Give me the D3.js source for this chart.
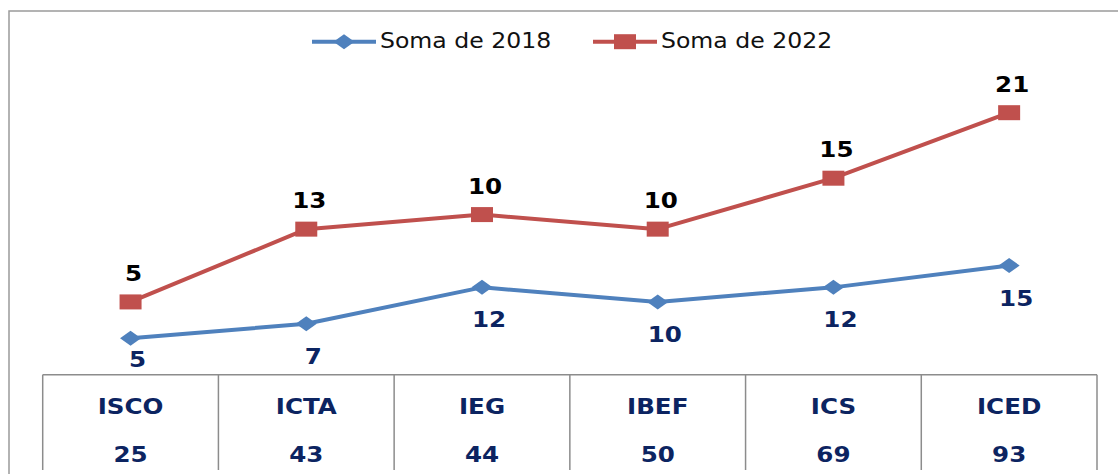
<!DOCTYPE html>
<html>
<head>
<meta charset="utf-8">
<script src="https://cdn.jsdelivr.net/npm/d3@7"></script>
<style>
  html, body { margin: 0; padding: 0; background: #fff; }
  svg { display: block; }
  text { font-family: "DejaVu Sans", Verdana, sans-serif; }
</style>
</head>
<body>
<svg id="chart" width="1118" height="474"></svg>
<script>
// data
var categories = ["ISCO", "ICTA", "IEG", "IBEF", "ICS", "ICED"];
var soma2018 = [5, 7, 12, 10, 12, 15];
var soma2022 = [5, 13, 10, 10, 15, 21];
var totals = [25, 43, 44, 50, 69, 93];
var seriesNames = ["Soma de 2018", "Soma de 2022"];

var blue = "#4F81BD", red = "#C0504D", navy = "#0C2461";
var stretch = 1.17; // reference text is drawn wide

var svg = d3.select("#chart");

// outer chart frame (right and bottom edges fall outside the picture)
svg.append("rect")
    .attr("x", 9).attr("y", 11)
    .attr("width", 1130).attr("height", 480)
    .attr("fill", "none")
    .attr("stroke", "#9a9a9a")
    .attr("stroke-width", 1.5);

var rows = categories.map(function (c, i) {
    return { cat: c, a: soma2018[i], b: soma2022[i], total: totals[i] };
});

// lines are stacked: 2022 sits on top of 2018
var stacked = d3.stack().keys(["a", "b"])(rows);

var x = d3.scaleBand().domain(categories).range([42.7, 1097]).padding(0);
var y = d3.scaleLinear().domain([0, 50]).range([374.7, 10.8]);
var cx = function (c) { return x(c) + x.bandwidth() / 2; };

var line = d3.line()
    .x(function (d) { return cx(d.data.cat); })
    .y(function (d) { return y(d[1]); });

var colors = [blue, red];

stacked.forEach(function (s, k) {
    svg.append("path")
        .datum(s)
        .attr("d", line)
        .attr("fill", "none")
        .attr("stroke", colors[k])
        .attr("stroke-width", 4)
        .attr("stroke-linejoin", "round");
});

// markers
svg.selectAll(".m2018")
    .data(stacked[0])
    .enter().append("path")
    .attr("class", "m2018")
    .attr("transform", function (d) { return "translate(" + cx(d.data.cat) + "," + y(d[1]) + ")"; })
    .attr("d", "M0,-7.5L10.5,0L0,7.5L-10.5,0Z")
    .attr("fill", blue);

svg.selectAll(".m2022")
    .data(stacked[1])
    .enter().append("rect")
    .attr("class", "m2022")
    .attr("x", function (d) { return cx(d.data.cat) - 11; })
    .attr("y", function (d) { return y(d[1]) - 7.5; })
    .attr("width", 22)
    .attr("height", 15)
    .attr("fill", red);

function wideText(sel, fx, fy) {
    return sel.attr("transform", function (d, i) {
        return "translate(" + fx(d, i) + "," + fy(d, i) + ") scale(" + stretch + ",1)";
    });
}

// data labels (below for 2018, kept above the table; above for 2022)
wideText(svg.selectAll(".l2018").data(stacked[0]).enter().append("text").attr("class", "l2018"),
    function (d) { return cx(d.data.cat) + 7; },
    function (d) { return Math.min(y(d[1]) + 40, y(0) - 7.5); })
    .attr("text-anchor", "middle")
    .style("font-size", "21px")
    .style("font-weight", "bold")
    .attr("fill", navy)
    .text(function (d) { return d.data.a; });

wideText(svg.selectAll(".l2022").data(stacked[1]).enter().append("text").attr("class", "l2022"),
    function (d) { return cx(d.data.cat) + 3; },
    function (d) { return y(d[1]) - 21; })
    .attr("text-anchor", "middle")
    .style("font-size", "21px")
    .style("font-weight", "bold")
    .attr("fill", "#000")
    .text(function (d) { return d.data.b; });

// data table under the plot
var tableTop = y(0), tableBottom = 470;
svg.append("line")
    .attr("x1", x.range()[0]).attr("x2", x.range()[1])
    .attr("y1", tableTop).attr("y2", tableTop)
    .attr("stroke", "#8c8c8c").attr("stroke-width", 1.5);

var edges = categories.map(function (c) { return x(c); }).concat([x.range()[1]]);
svg.selectAll(".tdiv")
    .data(edges)
    .enter().append("line")
    .attr("class", "tdiv")
    .attr("x1", function (d) { return d; }).attr("x2", function (d) { return d; })
    .attr("y1", tableTop).attr("y2", tableBottom)
    .attr("stroke", "#8c8c8c").attr("stroke-width", 1.5);

wideText(svg.selectAll(".tcat").data(rows).enter().append("text").attr("class", "tcat"),
    function (d) { return cx(d.cat); },
    function () { return 413.8; })
    .attr("text-anchor", "middle")
    .style("font-size", "21px")
    .style("font-weight", "bold")
    .attr("fill", navy)
    .text(function (d) { return d.cat; });

wideText(svg.selectAll(".tval").data(rows).enter().append("text").attr("class", "tval"),
    function (d) { return cx(d.cat); },
    function () { return 461.7; })
    .attr("text-anchor", "middle")
    .style("font-size", "21px")
    .style("font-weight", "bold")
    .attr("fill", navy)
    .text(function (d) { return d.total; });

// legend
var legendX = [312, 593];
var legend = svg.selectAll(".legend")
    .data(seriesNames)
    .enter().append("g")
    .attr("class", "legend")
    .attr("transform", function (d, i) { return "translate(" + legendX[i] + ",41.7)"; });

legend.append("line")
    .attr("x1", 0).attr("x2", 64)
    .attr("y1", 0).attr("y2", 0)
    .attr("stroke", function (d, i) { return colors[i]; })
    .attr("stroke-width", 4);

legend.append("path")
    .attr("d", function (d, i) {
        return i === 0 ? "M32,-7.5L42.5,0L32,7.5L21.5,0Z" : "M21,-7.5H43V7.5H21Z";
    })
    .attr("fill", function (d, i) { return colors[i]; });

legend.append("text")
    .attr("transform", "translate(68,6.6) scale(1.15,1)")
    .style("font-size", "20.5px")
    .attr("fill", "#111")
    .text(function (d) { return d; });
</script>
</body>
</html>
